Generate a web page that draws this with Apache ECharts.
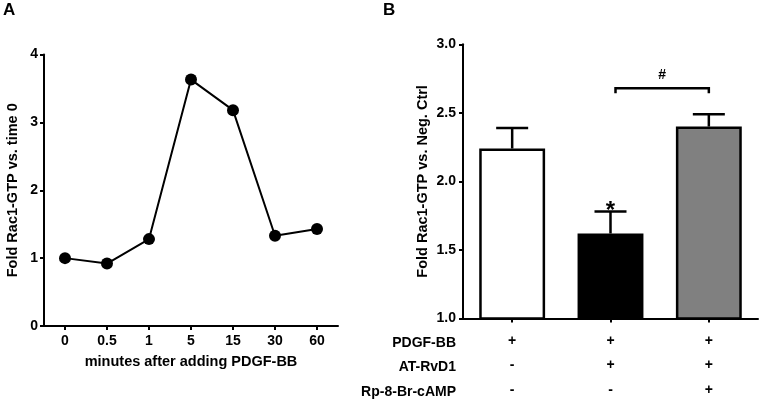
<!DOCTYPE html>
<html>
<head>
<meta charset="utf-8">
<script src="https://cdn.jsdelivr.net/npm/echarts@6/dist/echarts.min.js"></script>
<style>html,body{margin:0;padding:0;background:#fff}#c{width:760px;height:402px}</style>
</head>
<body>
<div id="c"></div>
<script>
// Panel A data
const timeCats = ['0', '0.5', '1', '5', '15', '30', '60'];
const foldTime = [1.0, 0.92, 1.28, 3.63, 3.18, 1.33, 1.43];

// Panel B data
const groups = ['G1', 'G2', 'G3'];
const barMeans = [2.24, 1.62, 2.40];
const barErrTop = [2.39, 1.78, 2.49];
const barColors = ['#ffffff', '#000000', '#808080'];
const sigMarks = ['', '*', ''];
const bracketFrom = [1];
const bracketTo = [2];
const bracketY = [2.68];
const bracketLabel = ['#'];
const rowNames = ['PDGF-BB', 'AT-RvD1', 'Rp-8-Br-cAMP'];
const rowPDGF = ['+', '+', '+'];
const rowATRvD1 = ['-', '+', '+'];
const rowRp = ['-', '-', '+'];
const tableRows = [rowPDGF, rowATRvD1, rowRp];

const FONT = '"Liberation Sans", Arial, sans-serif';
const txt = {fontFamily: FONT, fontWeight: 'bold', color: '#000', fontSize: 14};

const chart = echarts.init(document.getElementById('c'), null, {renderer: 'canvas'});
const axisLineStyle = {show: true, lineStyle: {color: '#000', width: 2}};
const tick = {show: true, length: 4, lineStyle: {color: '#000', width: 2}};

const option = {
  backgroundColor: '#fff',
  animation: false,
  grid: [
    {left: 44, top: 54.5, width: 294, height: 271.5},
    {left: 463, top: 44.3, width: 295, height: 282}
  ],
  xAxis: [
    {gridIndex: 0, type: 'category', data: timeCats, boundaryGap: true,
     axisLine: axisLineStyle, axisTick: Object.assign({alignWithLabel: true}, tick),
     axisLabel: Object.assign({margin: 8}, txt),
     name: 'minutes after adding PDGF-BB', nameLocation: 'middle', nameGap: 28,
     nameTextStyle: Object.assign({}, txt, {fontSize: 14.5})},
    {gridIndex: 1, type: 'category', data: groups, boundaryGap: true,
     axisLine: axisLineStyle, axisTick: Object.assign({alignWithLabel: true}, tick),
     axisLabel: Object.assign({margin: 10, lineHeight: 24.5,
       formatter: (v, i) => tableRows.map(r => r[i]).join('\n')}, txt)}
  ],
  yAxis: [
    {gridIndex: 0, type: 'value', min: 0, max: 4, interval: 1,
     axisLine: axisLineStyle, axisTick: tick, splitLine: {show: false},
     axisLabel: Object.assign({margin: 6}, txt),
     name: 'Fold Rac1-GTP vs. time 0', nameLocation: 'middle', nameGap: 24,
     nameTextStyle: Object.assign({}, txt, {fontSize: 14.5})},
    {gridIndex: 1, type: 'value', min: 1.0, max: 3.0, interval: 0.5,
     axisLine: axisLineStyle, axisTick: tick, splitLine: {show: false},
     axisLabel: Object.assign({margin: 7, formatter: v => v.toFixed(1)}, txt),
     name: 'Fold Rac1-GTP vs. Neg. Ctrl', nameLocation: 'middle', nameGap: 33,
     nameTextStyle: Object.assign({}, txt, {fontSize: 14.5})}
  ],
  series: [
    {type: 'line', xAxisIndex: 0, yAxisIndex: 0, data: foldTime,
     symbol: 'circle', symbolSize: 12,
     lineStyle: {color: '#000', width: 2}, itemStyle: {color: '#000'}},
    {type: 'bar', xAxisIndex: 1, yAxisIndex: 1, barWidth: '67%',
     data: barMeans.map((v, i) => ({value: v, itemStyle: {color: barColors[i]}})),
     itemStyle: {borderColor: '#000', borderWidth: 2.5}},
    {type: 'custom', xAxisIndex: 1, yAxisIndex: 1, z: 5,
     data: barMeans.map((v, i) => [i, v, barErrTop[i]]),
     renderItem: (params, api) => {
       const i = api.value(0);
       const p0 = api.coord([i, api.value(1)]);
       const p1 = api.coord([i, api.value(2)]);
       const hw = 16;
       const children = [
         {type: 'line', shape: {x1: p0[0], y1: p0[1], x2: p1[0], y2: p1[1]}, style: {stroke: '#000', lineWidth: 2.5}},
         {type: 'line', shape: {x1: p1[0] - hw, y1: p1[1], x2: p1[0] + hw, y2: p1[1]}, style: {stroke: '#000', lineWidth: 2.5}}
       ];
       if (sigMarks[i]) {
         children.push({type: 'text', style: {text: sigMarks[i], x: p1[0], y: p1[1] + 12,
           textAlign: 'center', textVerticalAlign: 'bottom',
           font: 'bold 24px ' + FONT, fill: '#000'}});
       }
       return {type: 'group', children};
     }},
    {type: 'custom', xAxisIndex: 1, yAxisIndex: 1, z: 5,
     data: bracketFrom.map((f, k) => [f, bracketTo[k], bracketY[k]]),
     renderItem: (params, api) => {
       const k = params.dataIndex;
       const a = api.coord([api.value(0), api.value(2)]);
       const b = api.coord([api.value(1), api.value(2)]);
       const dx = 5;
       return {type: 'group', children: [
         {type: 'polyline', shape: {points: [[a[0] + dx, a[1] + 5], [a[0] + dx, a[1]], [b[0], b[1]], [b[0], b[1] + 5]]},
          style: {stroke: '#000', lineWidth: 2.5, fill: null}},
         {type: 'text', style: {text: bracketLabel[k], x: (a[0] + dx + b[0]) / 2, y: a[1] - 6,
           textAlign: 'center', textVerticalAlign: 'bottom', font: 'bold 14px ' + FONT, fill: '#000'}}
       ]};
     }}
  ],
  graphic: [
    {type: 'text', left: 3, top: 2, style: {text: 'A', font: 'bold 17px ' + FONT, fill: '#000'}},
    {type: 'text', left: 383, top: 2, style: {text: 'B', font: 'bold 17px ' + FONT, fill: '#000'}}
  ].concat(rowNames.map((n, r) => ({
    type: 'text', right: 760 - 456, top: 336 + r * 24.5,
    style: {text: n, font: 'bold 14px ' + FONT, fill: '#000', textAlign: 'right'}
  })))
};
chart.setOption(option);
</script>
</body>
</html>
